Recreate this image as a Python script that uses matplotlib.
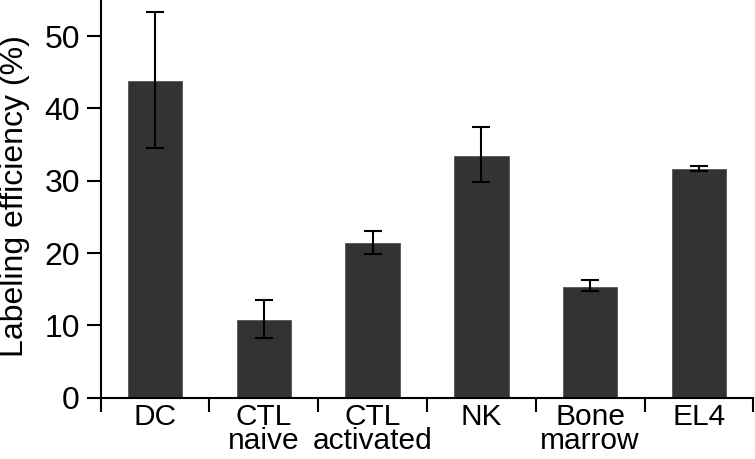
import numpy as np
import matplotlib.pyplot as plt

plt.rcParams['font.family'] = ['Liberation Sans', 'DejaVu Sans']

# Data
categories = ['DC', 'CTL\nnaive', 'CTL\nactivated', 'NK', 'Bone\nmarrow', 'EL4']
values = [43.8, 10.7, 21.4, 33.4, 15.3, 31.6]
err_low = [9.3, 2.4, 1.5, 3.6, 0.6, 0.3]
err_high = [9.6, 2.8, 1.6, 4.1, 1.0, 0.4]

fig = plt.figure(figsize=(7.55, 4.59), dpi=100)
ax = fig.add_axes([100.7 / 755, 61.3 / 459, 652.6 / 755, 397.7 / 459])

x = np.arange(len(categories))
ax.bar(x, values, width=0.5, color='#333333', edgecolor='#555555', linewidth=0.6,
       yerr=[err_low, err_high], capsize=6.5,
       error_kw=dict(elinewidth=1.5, capthick=1.5, ecolor='black'))

ax.set_xlim(-0.5, len(categories) - 0.5)
ax.set_ylim(0, 55)
ax.set_yticks([0, 10, 20, 30, 40, 50])

# category labels at centres, small ticks between groups
ax.set_xticks(x)
ax.set_xticklabels(categories, linespacing=0.82)
ax.set_xticks(np.arange(-0.5, len(categories), 1.0), minor=True)
ax.tick_params(axis='x', which='major', length=0, pad=4, labelsize=21.5)
ax.tick_params(axis='x', which='minor', length=10, width=1.5, direction='out')
ax.tick_params(axis='y', length=10, width=1.5, pad=5, labelsize=23)

for side in ['top', 'right']:
    ax.spines[side].set_visible(False)
for side in ['left', 'bottom']:
    ax.spines[side].set_linewidth(1.5)

ax.set_ylabel('Labeling efficiency (%)', fontsize=23)
ax.yaxis.set_label_coords(-0.108, 0.508)

fig.savefig('out.png', dpi=100)
